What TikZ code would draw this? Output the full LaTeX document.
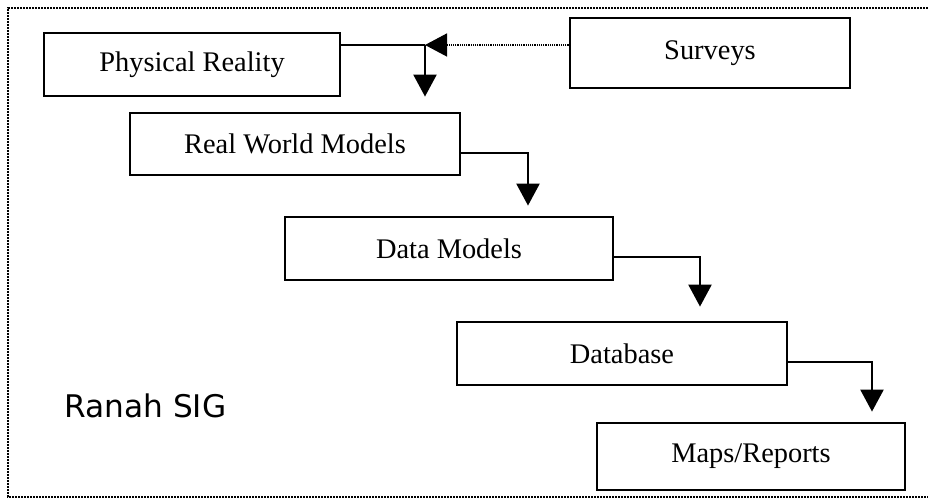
\documentclass[tikz,border=0pt]{standalone}
\usepackage{fontspec}
\setmainfont{Liberation Serif}
\newfontfamily\labelfont{DejaVu Sans}
\usetikzlibrary{arrows.meta}
\usetikzlibrary{calc}

\begin{document}
\begin{tikzpicture}[x=0.5pt, y=0.5pt, line cap=butt, line join=miter,
    sig-box/.style={draw, line width=1.4pt, inner sep=0pt, font=\fontsize{14.2}{16}\selectfont},
    flow/.style={line width=1.2pt, -{Triangle[width=11.5pt, length=11pt]}},
    survey-flow/.style={line width=0.7pt, dash pattern=on 0.6pt off 0.5pt, -{Triangle[width=11.5pt, length=11pt]}}]
    % frame
    \useasboundingbox (0,0) rectangle (928,502);
    \draw[line width=1.2pt, dash pattern=on 1pt off 0.5pt] (928,494) -- (8,494) -- (8,5) -- (928,5);

    % boxes
    \node[sig-box, minimum width=148pt, minimum height=31.5pt] (phys) at (192,437.5) {Physical Reality};
    \node[sig-box, minimum width=140pt, minimum height=35pt] (surv) at (710,449) {Surveys};
    \node[sig-box, minimum width=165pt, minimum height=31pt] (rwm) at (295,358) {Real World Models};
    \node[sig-box, minimum width=164pt, minimum height=31.5pt] (dm) at (449,253.5) {Data Models};
    \node[sig-box, minimum width=165pt, minimum height=31.5pt] (db) at (622,148.5) {Database};
    \node[sig-box, minimum width=154pt, minimum height=33.5pt] (maps) at (751,45.5) {Maps/Reports};

    % label
    \node[font=\labelfont\fontsize{15.6}{18}\selectfont, anchor=base west, inner sep=0pt] (ranah) at (64,84) {Ranah SIG};

    % junctions
    \coordinate (j1) at (425,457);
    \coordinate (j2) at (528,349);
    \coordinate (j3) at (700,245);
    \coordinate (j4) at (872,140);

    % connectors
    \draw[survey-flow] (surv.west |- j1) -- (j1);
    \draw[line width=1.2pt] (phys.east |- j1) -- (j1);
    \draw[flow, shorten >=7.5pt] (j1) -- (j1 |- rwm.north);
    \draw[flow, shorten >=5pt] (rwm.east |- j2) -| (j2 |- dm.north);
    \draw[flow, shorten >=7pt] (dm.east |- j3) -| (j3 |- db.north);
    \draw[flow, shorten >=5pt] (db.east |- j4) -| (j4 |- maps.north);

\end{tikzpicture}
\end{document}
